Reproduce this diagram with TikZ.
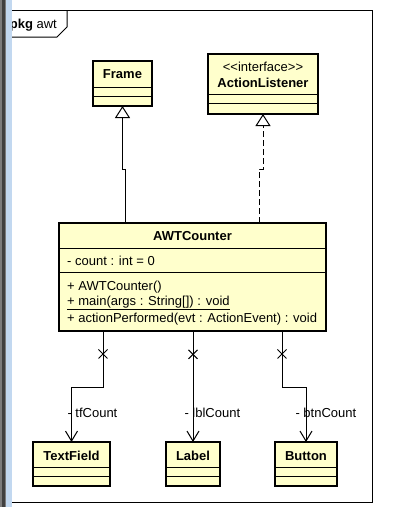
\documentclass[tikz,border=0pt]{standalone}
\usepackage{fontspec}
\setmainfont{Liberation Sans}
\usetikzlibrary{
arrows.meta,
positioning,
shapes.misc
}
\definecolor{classfill}{HTML}{FFFFCC}
\definecolor{winblue}{HTML}{C2D8F0}
\definecolor{wingray}{HTML}{7C7C7C}

\begin{document}
\begin{tikzpicture}[
x=1pt, y=-1pt,
font=\fontsize{13}{16}\selectfont,
classbox/.style={
draw,
line width=2pt,
fill=classfill,
inner sep=0pt,
outer sep=0pt,
anchor=north west
},
divider/.style={line width=1pt},
classname/.style={font=\fontsize{13}{16}\selectfont\bfseries, inner sep=0pt},
member/.style={anchor=west, inner sep=0pt},
inherit/.style={line width=1pt, -{Triangle[length=12pt, width=15pt, fill=white]}},
realize/.style={inherit, dash pattern=on 6pt off 3pt},
assoc/.style={line width=1pt, -{Straight Barb[length=10pt, width=12pt]}},
xmark/.style={cross out, draw, line width=1pt, minimum size=8pt, inner sep=0pt},
role/.style={anchor=west, inner sep=0pt}
]
\useasboundingbox (0,0) rectangle (401,507);

% package frame
\draw[line width=1pt] (0,10) rectangle (372,502);
\draw[line width=1pt] (0,37) -- (57,37) -- (67,27) -- (67,10);
\node[anchor=east, inner sep=0pt] (pkg) at (57,25) {\textbf{pkg} awt};

% classes
\node[classbox, minimum width=59, minimum height=45] (frame) at (93,61) {};
\node[classname] (frametitle) at ([yshift=-13pt]frame.north) {Frame};
\draw[divider] ([yshift=-26pt]frame.north west) -- ([yshift=-26pt]frame.north east);
\draw[divider] ([yshift=-35pt]frame.north west) -- ([yshift=-35pt]frame.north east);

\node[classbox, minimum width=110, minimum height=60] (listener) at (208,54) {};
\node[inner sep=0pt] (stereo) at ([yshift=-13pt]listener.north) {{<}{<}interface{>}{>}};
\node[classname] (listenertitle) at ([yshift=-29pt]listener.north) {ActionListener};
\draw[divider] ([yshift=-40pt]listener.north west) -- ([yshift=-40pt]listener.north east);
\draw[divider] ([yshift=-49pt]listener.north west) -- ([yshift=-49pt]listener.north east);

\node[classbox, minimum width=267, minimum height=108] (awt) at (59,223) {};
\node[classname] (awttitle) at ([yshift=-13pt]awt.north) {AWTCounter};
\draw[divider] ([yshift=-25pt]awt.north west) -- ([yshift=-25pt]awt.north east);
\draw[divider] ([yshift=-49pt]awt.north west) -- ([yshift=-49pt]awt.north east);
\node[member] (count) at ([xshift=8pt, yshift=-38pt]awt.north west) {- count : int = 0};
\node[member] (ctor) at ([xshift=8pt, yshift=-64pt]awt.north west) {+ AWTCounter()};
\node[member] (main) at ([xshift=8pt, yshift=-80pt]awt.north west) {\underline{+ main(args : String[]) : void}};
\node[member] (action) at ([xshift=8pt, yshift=-96pt]awt.north west) {+ actionPerformed(evt : ActionEvent) : void};

\node[classbox, minimum width=77, minimum height=44] (tf) at (33,442) {};
\node[classname] (tftitle) at ([yshift=-14pt]tf.north) {TextField};
\draw[divider] ([yshift=-25pt]tf.north west) -- ([yshift=-25pt]tf.north east);
\draw[divider] ([yshift=-34pt]tf.north west) -- ([yshift=-34pt]tf.north east);

\node[classbox, minimum width=54, minimum height=44] (lbl) at (166,442) {};
\node[classname] (lbltitle) at ([yshift=-14pt]lbl.north) {Label};
\draw[divider] ([yshift=-25pt]lbl.north west) -- ([yshift=-25pt]lbl.north east);
\draw[divider] ([yshift=-34pt]lbl.north west) -- ([yshift=-34pt]lbl.north east);

\node[classbox, minimum width=62, minimum height=44] (btn) at (275,442) {};
\node[classname] (btntitle) at ([yshift=-14pt]btn.north) {Button};
\draw[divider] ([yshift=-25pt]btn.north west) -- ([yshift=-25pt]btn.north east);
\draw[divider] ([yshift=-34pt]btn.north west) -- ([yshift=-34pt]btn.north east);

% generalization and realization
\draw[inherit] ([xshift=2.5pt]frame.south |- awt.north) -- ++(0,-54) -| (frame.south);
\draw[realize] ([xshift=-4pt]listener.south |- awt.north) -- ++(0,-54) -| (listener.south);

% compositions
\draw[assoc] ([xshift=-89.5pt]awt.south) -- node[xmark, pos=0.41] (x1) {} ++(0,56)
  -| node[role, pos=0.736, xshift=-4.5pt] (tfrole) {- tfCount} (tf.north);
\draw[assoc] (awt.south -| lbl.north) -- node[xmark, pos=0.21] (x2) {}
  node[role, pos=0.74, xshift=-9pt] (lblrole) {- lblCount} (lbl.north);
\draw[assoc] ([xshift=89.5pt]awt.south) -- node[xmark, pos=0.41] (x3) {} ++(0,56)
  -| node[role, pos=0.736, xshift=-11pt] (btnrole) {- btnCount} (btn.north);

% window edge
\fill[wingray] (0,0) rectangle (5.5,507);
\fill[black!75] (1.5,0) rectangle (4.5,507);
\fill[winblue] (5.5,0) rectangle (12,507);
\end{tikzpicture}
\end{document}
